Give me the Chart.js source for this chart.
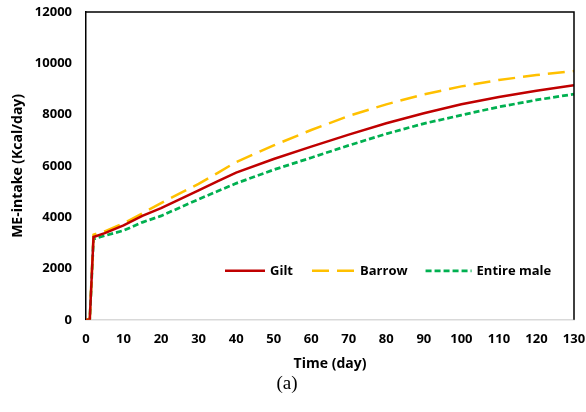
<!DOCTYPE html>
<html>
<head>
<meta charset="utf-8">
<script src="https://cdn.jsdelivr.net/npm/chart.js@4.4.0/dist/chart.umd.min.js"></script>
<style>
  html, body { margin: 0; padding: 0; background: #fff; }
  #wrap { width: 586px; height: 412px; }
</style>
</head>
<body>
<div id="wrap"><canvas id="chart" width="586" height="412"></canvas></div>
<script>
// days
const days = [0, 1, 2, 5, 10, 15, 20, 30, 35, 40, 50, 60, 70, 80, 90, 100, 110, 120, 130];

const gilt = [0, 0, 3230, 3380, 3680, 4050, 4350, 5050, 5400, 5740, 6270, 6750, 7220, 7660, 8050, 8400, 8690, 8930, 9140];
const barrow = [0, 0, 3320, 3450, 3760, 4150, 4550, 5300, 5720, 6150, 6800, 7400, 7950, 8400, 8790, 9100, 9350, 9540, 9700];
const entireMale = [0, 0, 3150, 3280, 3480, 3800, 4050, 4700, 5010, 5320, 5850, 6320, 6800, 7250, 7650, 7980, 8300, 8570, 8800];

const xTicks = [0, 10, 20, 30, 40, 50, 60, 70, 80, 90, 100, 110, 120, 130];
const yTicks = [0, 2000, 4000, 6000, 8000, 10000, 12000];

const tickFont = { family: 'Open Sans', size: 13, weight: 'bold' };

function pts(vals) {
  return days.map((d, i) => ({ x: d, y: vals[i] }));
}

// black frame on top/right, legend inside plot
const framePlugin = {
  id: 'frame',
  afterDatasetsDraw(chart) {
    const ctx = chart.ctx;
    const a = chart.chartArea;
    ctx.save();
    ctx.strokeStyle = '#000';
    ctx.lineWidth = 1.5;
    ctx.beginPath();
    ctx.moveTo(a.left, a.top);
    ctx.lineTo(a.right, a.top);
    ctx.lineTo(a.right, a.bottom);
    ctx.stroke();

    // legend
    const y = a.bottom - 49;
    let x = a.left + 139;
    ctx.font = 'bold 13px "Open Sans"';
    ctx.textBaseline = 'middle';
    ctx.fillStyle = '#000';
    const sampleLens = [40, 43, 46];
    const gaps = [19, 18, 0];
    chart.data.datasets.forEach((ds, i) => {
      ctx.strokeStyle = ds.borderColor;
      ctx.lineWidth = ds.borderWidth;
      ctx.setLineDash(ds.borderDash || []);
      ctx.beginPath();
      ctx.moveTo(x, y);
      ctx.lineTo(x + sampleLens[i], y);
      ctx.stroke();
      ctx.setLineDash([]);
      x += sampleLens[i] + 5;
      ctx.fillText(ds.label, x, y);
      x += ctx.measureText(ds.label).width + gaps[i];
    });
    ctx.restore();
  }
};

new Chart(document.getElementById('chart'), {
  type: 'line',
  data: {
    datasets: [
      {
        label: 'Gilt',
        data: pts(gilt),
        borderColor: '#C00000',
        borderWidth: 2.5,
        pointRadius: 0
      },
      {
        label: 'Barrow',
        data: pts(barrow),
        borderColor: '#FFC000',
        borderWidth: 2.5,
        borderDash: [17, 8],
        pointRadius: 0
      },
      {
        label: 'Entire male',
        data: pts(entireMale),
        borderColor: '#00B050',
        borderWidth: 2.75,
        borderDash: [6, 3],
        pointRadius: 0
      }
    ]
  },
  options: {
    responsive: false,
    animation: false,
    layout: { padding: { top: 12, right: 12, left: 0, bottom: 17 } },
    plugins: {
      legend: { display: false },
      tooltip: { enabled: false },
      title: {
        display: true,
        position: 'bottom',
        text: '(a)',
        color: '#000',
        font: { family: 'Liberation Serif', size: 19, weight: 'normal' },
        padding: { top: 0, bottom: 0 }
      }
    },
    scales: {
      x: {
        type: 'linear',
        min: 0,
        max: 130,
        afterBuildTicks: (axis) => { axis.ticks = xTicks.map(v => ({ value: v })); },
        afterFit: (scale) => { scale.paddingLeft = 0; scale.paddingRight = 0; },
        ticks: { color: '#000', font: tickFont, padding: 12, maxRotation: 0, callback: v => String(v) },
        grid: { display: false, drawTicks: false },
        border: { display: true, color: '#D9D9D9', width: 1.5 },
        title: {
          display: true,
          text: 'Time (day)',
          color: '#000',
          font: { family: 'Open Sans', size: 14, weight: 'bold' },
          padding: { top: -4, bottom: 0 }
        }
      },
      y: {
        min: 0,
        max: 12000,
        afterBuildTicks: (axis) => { axis.ticks = yTicks.map(v => ({ value: v })); },
        afterFit: (scale) => { scale.width = 86; scale.paddingTop = 0; scale.paddingBottom = 0; },
        ticks: { color: '#000', font: tickFont, padding: 14, callback: v => String(v) },
        grid: { display: false, drawTicks: false },
        border: { display: true, color: '#000', width: 1.5 },
        title: {
          display: true,
          text: 'ME-intake (Kcal/day)',
          color: '#000',
          font: { family: 'Open Sans', size: 14, weight: 'bold' },
          padding: { top: 10, bottom: 0 }
        }
      }
    }
  },
  plugins: [framePlugin]
});
</script>
</body>
</html>
